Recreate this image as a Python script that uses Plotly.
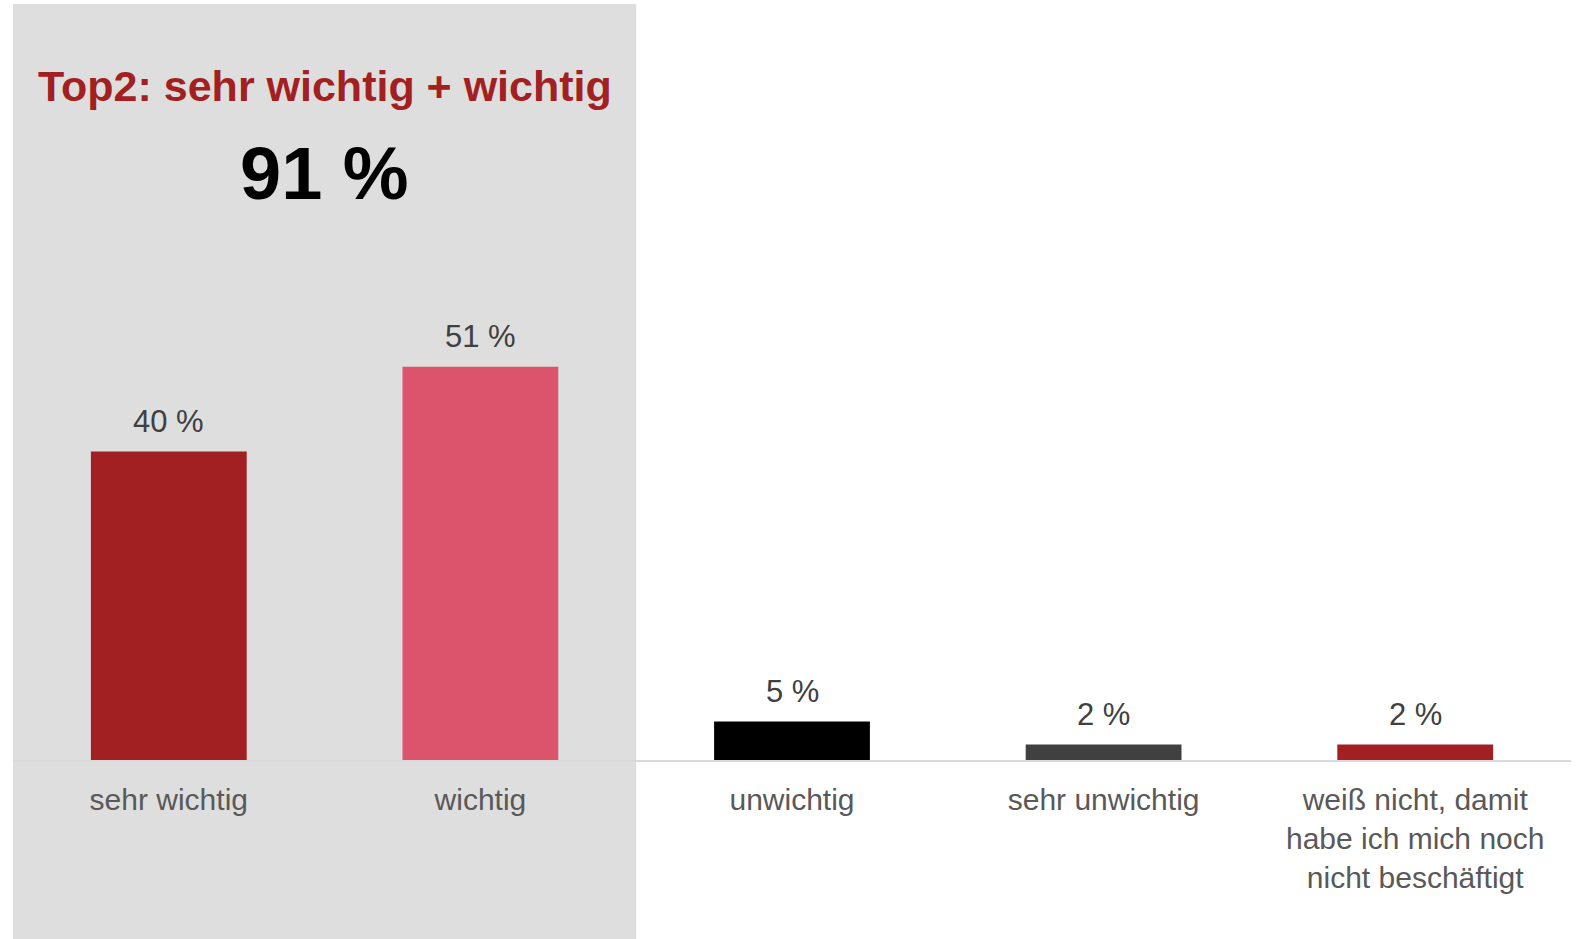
import plotly.graph_objects as go

categories = ["sehr wichtig", "wichtig", "unwichtig", "sehr unwichtig",
              "weiß nicht, damit<br>habe ich mich noch<br>nicht beschäftigt"]
values = [40, 51, 5, 2, 2]
labels = ["40 %", "51 %", "5 %", "2 %", "2 %"]
colors = ["#A21F22", "#DC546C", "#000000", "#404040", "#A21F22"]
top2_title = "Top2: sehr wichtig + wichtig"
top2_value = "91 %"

W, H = 1586, 939
m_l, m_r, m_t, m_b = 13, 15, 66, 179
ph = H - m_t - m_b

fig = go.Figure()
fig.add_trace(go.Bar(
    x=list(range(len(categories))), y=values,
    marker=dict(color=colors, line=dict(width=0)),
    width=0.5, hoverinfo="skip",
))

font = "Arial, 'Liberation Sans', sans-serif"

for i, (v, t) in enumerate(zip(values, labels)):
    fig.add_annotation(x=i, y=v, xref="x", yref="y", text=t, showarrow=False,
                       yanchor="middle", yshift=30,
                       font=dict(family=font, size=31, color="#404040"))

# grey highlight box behind the top-2 categories
fig.add_shape(type="rect", xref="x", yref="paper",
              x0=-0.5, x1=1.5, y0=(m_b - H) / ph - 0.01, y1=(H - m_b - 4) / ph,
              fillcolor="#DEDEDE", line=dict(width=0), layer="below")

fig.add_annotation(x=0.5, xref="x", yref="paper", y=(H - m_b - 86) / ph,
                   text="<b>" + top2_title + "</b>", showarrow=False, yanchor="middle",
                   font=dict(family=font, size=43, color="#A21F22"))
fig.add_annotation(x=0.5, xref="x", yref="paper", y=(H - m_b - 174) / ph,
                   text="<b>" + top2_value + "</b>", showarrow=False, yanchor="middle",
                   font=dict(family=font, size=74, color="#000000"))

fig.update_layout(
    width=W, height=H,
    margin=dict(l=m_l, r=m_r, t=m_t, b=m_b, pad=0),
    paper_bgcolor="white", plot_bgcolor="white",
    showlegend=False,
    bargap=0.5,
    xaxis=dict(range=[-0.5, len(categories) - 0.5], tickmode="array",
               tickvals=list(range(len(categories))), ticktext=categories,
               showgrid=False, zeroline=False, showline=True,
               linecolor="#D9D9D9", linewidth=2,
               ticks="outside", ticklen=12, tickcolor="rgba(0,0,0,0)",
               tickfont=dict(family=font, size=30, color="#595959")),
    yaxis=dict(range=[0, 90], visible=False, showgrid=False, zeroline=False),
)

fig.write_html("out.html")
